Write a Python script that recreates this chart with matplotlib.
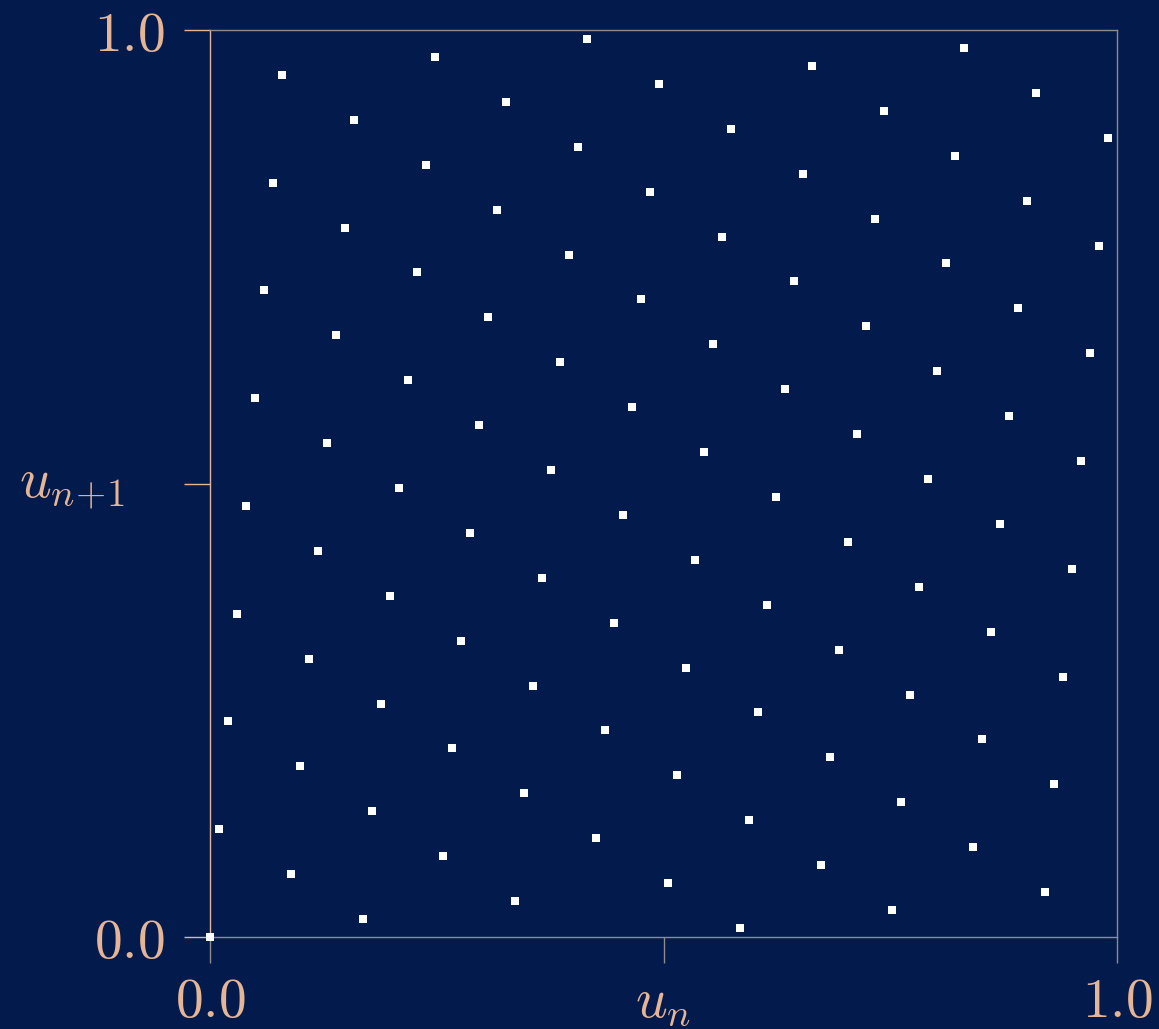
import numpy as np
import matplotlib.pyplot as plt

# LCG with modulus 101, multiplier 12: values read as k/101
m = 101
u_n = [0, 1, 2, 3, 4, 5, 6, 7, 8, 9, 10, 11, 12, 13, 14, 15, 16, 17, 18, 19,
       20, 21, 22, 23, 24, 25, 26, 27, 28, 29, 30, 31, 32, 33, 34, 35, 36, 37, 38, 39,
       40, 41, 42, 43, 44, 45, 46, 47, 48, 49, 50, 51, 52, 53, 54, 55, 56, 57, 58, 59,
       60, 61, 62, 63, 64, 65, 66, 67, 68, 69, 70, 71, 72, 73, 74, 75, 76, 77, 78, 79,
       80, 81, 82, 83, 84, 85, 86, 87, 88, 89, 90, 91, 92, 93, 94, 95, 96, 97, 98, 99, 100]
u_next = [0, 12, 24, 36, 48, 60, 72, 84, 96, 7, 19, 31, 43, 55, 67, 79, 91, 2, 14, 26,
          38, 50, 62, 74, 86, 98, 9, 21, 33, 45, 57, 69, 81, 93, 4, 16, 28, 40, 52, 64,
          76, 88, 100, 11, 23, 35, 47, 59, 71, 83, 95, 6, 18, 30, 42, 54, 66, 78, 90, 1,
          13, 25, 37, 49, 61, 73, 85, 97, 8, 20, 32, 44, 56, 68, 80, 92, 3, 15, 27, 39,
          51, 63, 75, 87, 99, 10, 22, 34, 46, 58, 70, 82, 94, 5, 17, 29, 41, 53, 65, 77, 89]
end_labels = [r'$\mathsf{0.0}$', r'$\mathsf{1.0}$']

bg = '#021a4c'
peach = '#e6b596'
grey = '#8c8c8c'

plt.rcParams['mathtext.fontset'] = 'cm'

fig = plt.figure(figsize=(11.59, 10.29), dpi=100, facecolor=bg)
ax = fig.add_axes([210/1159, 92/1029, 907/1159, 907/1029], facecolor=bg)

x = np.array(u_n) / m
y = np.array(u_next) / m
ax.plot(x, y, 's', color='white', markersize=6, markeredgewidth=0, clip_on=False, zorder=5)

ax.set_xlim(0, 1)
ax.set_ylim(0, 1)
ax.set_xticks([0, 0.5, 1])
ax.set_yticks([0, 0.5, 1])
ax.set_xticklabels([end_labels[0], r'$u_n$', end_labels[1]])
ax.set_yticklabels([end_labels[0], '', end_labels[1]])
ax.set_ylabel(r'$u_{n\!+\!1}$', rotation=0, fontsize=40, color=peach, ha='center', va='center')
ax.yaxis.set_label_coords(-0.152, 0.5)

for s in ['top', 'bottom', 'right']:
    ax.spines[s].set_color(grey)
    ax.spines[s].set_linewidth(1.0)
ax.spines['left'].set_color(peach)
ax.spines['left'].set_linewidth(1.0)

ax.tick_params(axis='x', direction='out', length=19, width=1, color=grey,
               labelcolor=peach, labelsize=40, pad=8)
ax.tick_params(axis='y', direction='out', length=19, width=1, color=peach,
               labelcolor=peach, labelsize=40, pad=14)

fig.savefig('out.png', dpi=100, facecolor=bg)
